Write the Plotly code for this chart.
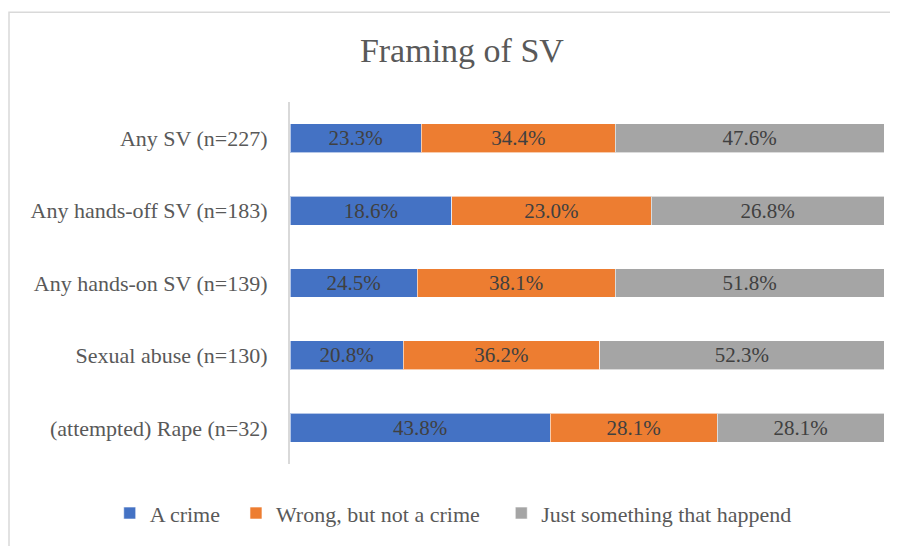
import plotly.graph_objects as go

# data
categories = [
    "Any SV (n=227)",
    "Any hands-off SV (n=183)",
    "Any hands-on SV (n=139)",
    "Sexual abuse (n=130)",
    "(attempted) Rape (n=32)",
]
crime = [23.3, 18.6, 24.5, 20.8, 43.8]
wrong_not_crime = [34.4, 23.0, 38.1, 36.2, 28.1]
just_happened = [47.6, 26.8, 51.8, 52.3, 28.1]

series_names = ["A crime", "Wrong, but not a crime", "Just something that happend"]
series_colors = ["#4472C4", "#ED7D31", "#A5A5A5"]
series_values = [crime, wrong_not_crime, just_happened]

# extra non-breaking spaces widen the gap between legend entries
LEGEND_PAD = ["\u00a0\u00a0", "\u00a0\u00a0\u00a0", ""]

FONT = "Liberation Serif, Times New Roman, serif"
TEXT_GRAY = "#595959"

fig = go.Figure()
for name, vals, color, pad in zip(series_names, series_values, series_colors, LEGEND_PAD):
    fig.add_trace(
        go.Bar(
            y=categories,
            x=vals,
            name=name + pad,
            orientation="h",
            marker=dict(color=color, line=dict(color="rgba(255,255,255,0.6)", width=1)),
            text=[f"{v:.1f}%" for v in vals],
            textposition="inside",
            insidetextanchor="middle",
            textfont=dict(family=FONT, size=21, color="#404040"),
            constraintext="none",
            hoverinfo="skip",
        )
    )

# page body has an 8px margin, so the figure is sized/offset to compensate
fig.update_layout(
    width=890,
    height=538,
    barmode="stack",
    barnorm="percent",
    bargap=0.6,
    plot_bgcolor="white",
    paper_bgcolor="white",
    font=dict(family=FONT, size=22, color=TEXT_GRAY),
    margin=dict(l=282, r=14, t=94, b=77),
    title=dict(
        text="Framing of SV",
        font=dict(family=FONT, size=34, color=TEXT_GRAY),
        x=0.51,
        xanchor="center",
        xref="container",
        y=0.922,
        yanchor="middle",
        yref="container",
    ),
    xaxis=dict(visible=False, range=[0, 100]),
    yaxis=dict(
        autorange="reversed",
        showline=True,
        linecolor="#D9D9D9",
        linewidth=2,
        ticks="",
        ticklabelstandoff=16,
        tickfont=dict(family=FONT, size=22, color=TEXT_GRAY),
    ),
    legend=dict(
        orientation="h",
        x=-0.3035,
        xanchor="left",
        y=-0.136,
        yanchor="middle",
        font=dict(family=FONT, size=22, color=TEXT_GRAY),
        itemwidth=30,
        traceorder="normal",
    ),
    shapes=[
        dict(
            type="rect",
            xref="paper",
            yref="paper",
            x0=-281 / 594,
            x1=1.5,
            y0=-1.0,
            y1=1.248,
            line=dict(color="#D9D9D9", width=1.5),
            fillcolor="rgba(0,0,0,0)",
            layer="below",
        )
    ],
)

fig.write_html("out.html")
